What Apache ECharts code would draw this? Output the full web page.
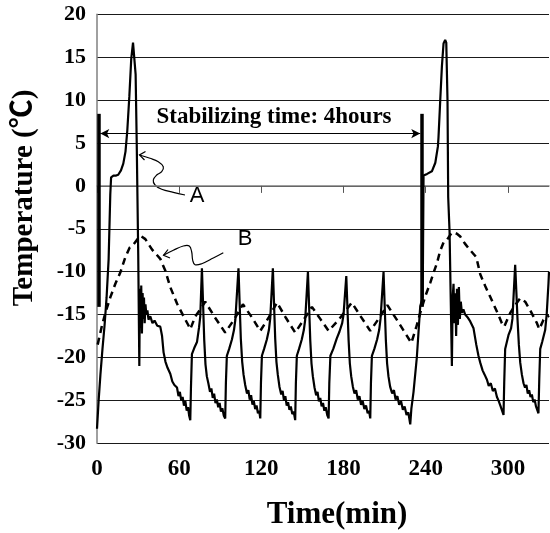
<!DOCTYPE html>
<html>
<head>
<meta charset="utf-8">
<script src="https://cdn.jsdelivr.net/npm/echarts@6/dist/echarts.min.js"></script>
<style>
html,body{margin:0;padding:0;background:#fff;}
#chart{width:550px;height:533px;}
</style>
</head>
<body>
<div id="chart"></div>
<script>
// ---- data ----
var aTime = [0,1.2,2.5,4,5.5,7,8.5,9.7,10.3,12,14,15.5,17.5,19.2,20.8,22.1,23.6,25,26.3,27.2,28.2,29,30.1,30.9,
 31.3,31.8,32.3,32.8,33.3,33.8,34.3,34.8,35.4,36,36.8,37.6,38.9,40.5,42,44,46.2,47.5,48.6,50,51.5,53.5,55,56.5,58.4,59.5,60.5,61.5,62.5,63.5,64.5,65.5,66.5,67.3,68.1,
 68.6,69.3,71,73,74.5,75.4,76.6,
 77.4,78.3,79.2,80.2,81.3,82.5,83.5,84.5,85.5,86.5,87.5,88.5,89.5,90.5,91.5,92.6,93.6,
 94.1,94.8,96.5,98.5,100,101,103.3,
 104.1,105,106,107,108.2,109.5,110.5,111.5,112.5,113.5,114.5,115.5,116.5,117.5,118.4,119.2,
 119.7,120.4,122,124,125.5,126.5,128.4,
 129.2,130.1,131,132,133.2,134.5,135.5,136.5,137.5,138.5,139.5,140.5,141.5,142.6,143.6,144.7,
 145.2,145.9,147.5,149.5,151,152,154,
 154.8,155.7,156.6,157.6,158.8,160,161,162,163,164,165,166,167,168.1,169.1,
 169.6,170.4,172.5,175,177,179,180,182,
 182.8,183.7,184.6,185.6,186.8,188,189.2,190.4,191.6,192.8,194,195.2,196.4,197.6,198.6,199.5,
 200,200.7,202.5,204.5,206,207,209.2,
 210,210.9,211.8,212.8,214,215.5,216.8,218,219.3,220.6,222,223.3,224.6,226,227.3,228.7,
 229.5,231.1,233.5,236,237.8,238.4,241,244.5,247,248.9,249.3,250.6,251.8,253,254.2,255,255.9,256.4,257.4,259.1,
 259.7,260.3,261,261.6,262.2,262.8,263.5,264.2,264.9,265.6,266.4,267.5,268.8,270.5,272.5,274.9,276.9,278.5,279.8,281.5,283,284.7,286,287.5,289,290.5,292,293.1,294.5,295.5,296.8,
 297.3,298,300.4,302.3,303.3,305.3,
 306.2,307,308,309,310.2,311.4,312.5,313.5,314.5,315.5,316.5,317.5,318.5,319.5,320.5,321.5,322.3,
 322.9,323.6,325,327.2,328.3,329.6,330];
var aTemp = [-28.3,-25,-22,-19,-16.3,-13,-8.5,-1,1,1.2,1.2,1.3,1.8,2.6,4,6.4,10.4,14.8,16.7,16.6,13,5,-8,-21,
 -12,-16.5,-11.6,-17.2,-12.5,-15.5,-13,-16,-13.8,-15,-14.5,-15.6,-15.2,-16,-15.7,-16.3,-16.4,-17.5,-19.4,-20.5,-21.2,-21.9,-22.8,-23.2,-23.5,-24.5,-24,-25,-24.6,-25.6,-25.1,-26.2,-25.8,-26.8,-27.3,
 -23.5,-19.6,-18.9,-18.2,-16.5,-15.2,-9.6,
 -13.5,-18,-20.8,-22.2,-23,-24,-23.6,-24.7,-24.2,-25.3,-24.9,-25.8,-25.3,-26.3,-25.9,-26.8,-27.1,
 -23,-19.8,-19,-17.9,-16.8,-15.6,-9.6,
 -13.5,-17.8,-20.5,-22,-23.2,-24.2,-23.8,-24.9,-24.4,-25.5,-25.1,-26,-25.6,-26.5,-26.2,-27.1,
 -23,-19.8,-19,-17.9,-16.8,-15.4,-9.6,
 -13.5,-17.8,-20.5,-22,-23.4,-24.3,-23.9,-25,-24.5,-25.6,-25.2,-26.1,-25.7,-26.6,-26.3,-27.3,
 -23,-19.8,-19,-17.9,-16.8,-15.6,-10,
 -13.8,-18,-20.7,-22.2,-23.5,-24.4,-24,-25.1,-24.7,-25.7,-25.3,-26.2,-25.8,-26.7,-27.1,
 -23,-19.8,-19,-17.8,-17,-16,-15,-10.5,
 -14,-18,-20.7,-22.2,-23.4,-24.2,-23.8,-24.9,-24.5,-25.5,-25.1,-26,-25.6,-26.5,-26.2,-27.1,
 -23,-19.8,-19,-17.9,-16.8,-15.5,-10,
 -13.8,-18,-20.7,-22.2,-23.4,-24.2,-23.8,-24.9,-24.5,-25.5,-25.1,-26.1,-25.7,-26.7,-26.4,-27.8,
 -26,-24,-20,-14,-13,1.2,1.4,1.7,2.7,4.6,5.6,10,13.9,16.6,17,16.7,10,-1.3,-5.3,-21,
 -13,-11.4,-16,-12.5,-17.5,-12,-16.2,-11.8,-15.5,-13.5,-14.8,-14.4,-15,-15.3,-15.8,-16.6,-18.5,-19.8,-20.6,-21.5,-22,-22.6,-23.3,-23,-23.9,-23.6,-24.6,-25,-25.6,-25.4,-26.7,
 -23,-19,-17.4,-16.6,-15.5,-9.2,
 -12.5,-15.5,-18.5,-20.6,-22,-23,-23.5,-23.2,-24.2,-23.8,-24.6,-24.3,-25.2,-24.9,-25.7,-25.5,-26.5,
 -22.5,-19,-18.2,-16.8,-15,-11.4,-10];

var bTime = [0.5,3.6,6.1,9.7,13.4,17,20.7,23.8,26.7,31.6,35.3,40.1,46.2,49.9,53.5,58.4,63.2,66.9,68.1,71.8,75.4,79,
 86,93.6,100,106.5,113,119.2,125.5,131.4,138,144.7,150.5,156.9,163,169.1,177,186,192.5,199.5,206,212,220.5,229.5,
 233,236,239.6,243.3,246,248.2,250.5,253,255.5,257.9,260.3,263,265.2,268.5,272.5,276.9,279.8,283.5,287,292.4,295.6,297.3,
 301.7,305.3,309,312.6,316.3,321.2,322.9,326,330];
var bTemp = [-18.5,-16.3,-14.8,-13,-11.4,-10.1,-8.3,-7.2,-6.8,-5.8,-6.2,-7.4,-8.5,-9.9,-11.8,-13.7,-15.2,-16.3,-16.7,-15.2,-14.4,-13.5,
 -15.3,-17.1,-15.6,-13.8,-15.3,-16.9,-15.3,-13.6,-15.4,-17.1,-15.7,-14.1,-15.5,-16.9,-15.5,-13.6,-15.2,-16.9,-15.4,-13.9,-16,-18.3,
 -16.5,-14.8,-12.9,-11.3,-10,-9,-7.6,-6.6,-6.3,-5.7,-5.4,-5.6,-5.9,-6.7,-7.5,-8.3,-10.3,-11.7,-12.9,-14.8,-16,-16.4,
 -14.8,-13.9,-13.1,-13.5,-14.5,-16,-16.7,-15.6,-15.1];

var xTicks = [0, 60, 120, 180, 240, 300];
var markerTimes = [1, 237.4];      // stabilizing-period markers (min)
var markerRange = [8.4, -14.1];    // vertical extent of markers (°C)
var arrowSpan = [2.4, 236];        // double arrow (min)
var arrowLevel = 6.1;              // °C

function pairs(t, v) { return t.map(function (x, i) { return [x, v[i]]; }); }

var serif = "'Liberation Serif', 'Times New Roman', serif";
var chart = echarts.init(document.getElementById('chart'), null, { renderer: 'canvas' });

chart.setOption({
  animation: false,
  backgroundColor: '#fff',
  grid: { left: 97, right: 1, top: 14.3, bottom: 89.7 },
  xAxis: {
    type: 'value', min: 0, max: 330, interval: 60,
    axisLine: { show: true, lineStyle: { color: '#808080', width: 1.5 } },
    axisTick: { show: true, length: 7, lineStyle: { color: '#555', width: 1 }, customValues: xTicks },
    axisLabel: { customValues: xTicks, margin: 14, color: '#000', fontFamily: serif, fontWeight: 'bold', fontSize: 23 },
    splitLine: { show: false }
  },
  yAxis: {
    type: 'value', min: -30, max: 20, interval: 5,
    axisLine: { show: true, onZero: false, lineStyle: { color: '#808080', width: 1.5 } },
    axisTick: { show: false },
    axisLabel: { margin: 11, color: '#000', fontFamily: serif, fontWeight: 'bold', fontSize: 22 },
    splitLine: { show: true, lineStyle: { color: '#1a1a1a', width: 1 } }
  },
  series: [
    {
      name: 'A', type: 'line', data: pairs(aTime, aTemp), showSymbol: false, symbol: 'none',
      lineStyle: { color: '#000', width: 2.2 }, z: 3,
      markLine: {
        silent: true, symbol: 'none',
        lineStyle: { color: '#000', width: 3.5, type: 'solid' },
        label: { show: false },
        data: markerTimes.map(function (t) {
          return [{ coord: [t, markerRange[0]] }, { coord: [t, markerRange[1]] }];
        })
      }
    },
    {
      name: 'B', type: 'line', data: pairs(bTime, bTemp), showSymbol: false, symbol: 'none',
      lineStyle: { color: '#000', width: 2.5, type: [7, 5] }, z: 2,
      markLine: {
        silent: true, symbol: ['arrow', 'arrow'], symbolSize: [7, 9],
        lineStyle: { color: '#000', width: 1, type: 'solid' },
        label: { show: false },
        data: [[{ coord: [arrowSpan[0], arrowLevel] }, { coord: [arrowSpan[1], arrowLevel] }]]
      }
    }
  ],
  graphic: [
    { type: 'text', x: 274, y: 117, style: { text: 'Stabilizing time: 4hours', font: "bold 23px 'Liberation Serif'", fill: '#000', textAlign: 'center', textVerticalAlign: 'middle' } },
    { type: 'text', x: 25, y: 198, rotation: Math.PI / 2, style: { text: 'Temperature (℃)', font: "bold 29px 'Liberation Serif', 'Noto Sans CJK KR'", fill: '#000', textAlign: 'center', textVerticalAlign: 'middle' } },
    { type: 'text', x: 337, y: 515, style: { text: 'Time(min)', font: "bold 31px 'Liberation Serif'", fill: '#000', textAlign: 'center', textVerticalAlign: 'middle' } },
    { type: 'text', x: 197, y: 196, style: { text: 'A', font: "22px 'Liberation Sans Narrow', 'Liberation Sans'", fill: '#000', textAlign: 'center', textVerticalAlign: 'middle' } },
    { type: 'text', x: 245, y: 239, style: { text: 'B', font: "22px 'Liberation Sans Narrow', 'Liberation Sans'", fill: '#000', textAlign: 'center', textVerticalAlign: 'middle' } },
    { type: 'polyline', shape: { points: [[185,195],[173.3,192.3],[161.7,189.3],[155,185],[153.3,180],[156.7,175],[161.7,171.7],[163.3,166.7],[158.3,161.7],[150,158.3],[139.5,155]], smooth: 0.4 }, style: { stroke: '#000', lineWidth: 1.2, fill: null } },
    { type: 'polyline', shape: { points: [[145.5,151.5],[139.5,155],[144.5,160]] }, style: { stroke: '#000', lineWidth: 1.2, fill: null } },
    { type: 'polyline', shape: { points: [[223.3,252.7],[213.3,258],[201.7,263.7],[195,264.7],[192.7,260.3],[191.7,252],[189.3,246],[183.3,246],[173.3,250.3],[163.5,255.3]], smooth: 0.4 }, style: { stroke: '#000', lineWidth: 1.2, fill: null } },
    { type: 'polyline', shape: { points: [[168,249.5],[163.5,255.3],[170,258]] }, style: { stroke: '#000', lineWidth: 1.2, fill: null } }
  ]
});
</script>
</body>
</html>
